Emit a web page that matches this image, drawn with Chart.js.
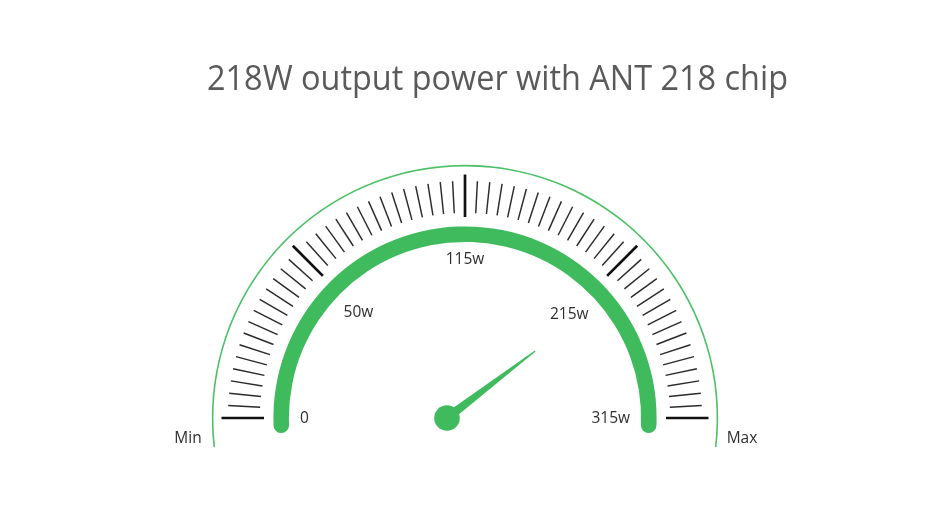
<!DOCTYPE html>
<html>
<head>
<meta charset="utf-8">
<script src="https://cdn.jsdelivr.net/npm/chart.js@4/dist/chart.umd.min.js"></script>
<style>
html,body{margin:0;padding:0;background:#ffffff;}
#wrap{width:950px;height:529px;position:relative;}
</style>
</head>
<body>
<div id="wrap"><canvas id="c" width="950" height="529"></canvas></div>
<script>
// ---- data ----
const chartTitle = '218W output power with ANT 218 chip';
const scaleLabels = ['0', '50w', '115w', '215w', '315w'];
const scaleValues = [0, 50, 115, 215, 315];
const endLabels = ['Min', 'Max'];
const needleValue = [218];
const gaugeRange = [315];
const tickIntervals = 60;
const majorEvery = 15;

// ---- styles ----
const GREEN = '#3fba5d';
const GREEN_LINE = '#4cc167';
const TEXT = '#2e2e2e';

function valueToTheta(v) {
  // piecewise mapping between labelled values placed at equal angular steps
  const n = scaleValues.length - 1;
  for (let i = 0; i < n; i++) {
    if (v <= scaleValues[i + 1] || i === n - 1) {
      const t = (v - scaleValues[i]) / (scaleValues[i + 1] - scaleValues[i]);
      return (i + t) * Math.PI / n;
    }
  }
  return Math.PI;
}

const gaugePlugin = {
  id: 'gaugeDecor',
  afterDatasetsDraw(chart) {
    const ctx = chart.ctx;
    const ring = chart.getDatasetMeta(1).data[0];
    const cx = ring.x, cy = ring.y;
    ctx.save();
    // ticks
    ctx.lineCap = 'butt';
    for (let i = 0; i <= tickIntervals; i++) {
      const a = Math.PI + i / tickIntervals * Math.PI;
      const major = i % majorEvery === 0;
      const r1 = major ? ring.innerRadius + 9.4 : ring.innerRadius + 13.5;
      const r2 = major ? ring.outerRadius - 8.1 : ring.outerRadius - 14.5;
      ctx.beginPath();
      ctx.moveTo(cx + r1 * Math.cos(a), cy + r1 * Math.sin(a));
      ctx.lineTo(cx + r2 * Math.cos(a), cy + r2 * Math.sin(a));
      ctx.lineWidth = major ? 2.7 : 1.45;
      ctx.strokeStyle = major ? '#111111' : '#2a2a2a';
      ctx.stroke();
    }
    // scale labels
    ctx.fillStyle = TEXT;
    ctx.font = '400 15.5px "Open Sans"';
    ctx.textAlign = 'center';
    ctx.textBaseline = 'alphabetic';
    const capH = 10.9;
    const n = scaleLabels.length - 1;
    scaleLabels.forEach((lab, i) => {
      const a = Math.PI + i * Math.PI / n;
      const ux = Math.cos(a), uy = Math.sin(a);
      const hw = ctx.measureText(lab).width / 2, hh = capH / 2;
      const r = 165 - (Math.abs(ux) * hw + Math.abs(uy) * hh);
      const x = cx + r * ux, y = cy + r * uy;
      ctx.fillText(lab, x, y + hh);
    });
    // Min / Max
    ctx.fillText(endLabels[0], cx - 277, cy + 25);
    ctx.fillText(endLabels[1], cx + 277, cy + 25);
    // needle
    const th = valueToTheta(needleValue[0]);
    const a = Math.PI + th;
    const tip = {x: cx + 97 * Math.cos(a), y: cy + 97 * Math.sin(a)};
    const piv = {x: cx - 18, y: cy};
    let dx = tip.x - piv.x, dy = tip.y - piv.y;
    const L = Math.hypot(dx, dy); dx /= L; dy /= L;
    const nx = -dy, ny = dx;
    ctx.fillStyle = GREEN;
    ctx.beginPath();
    ctx.moveTo(piv.x + nx * 4.8, piv.y + ny * 4.8);
    ctx.lineTo(tip.x + nx * 0.6, tip.y + ny * 0.6);
    ctx.lineTo(tip.x - nx * 0.6, tip.y - ny * 0.6);
    ctx.lineTo(piv.x - nx * 4.8, piv.y - ny * 4.8);
    ctx.closePath();
    ctx.fill();
    ctx.beginPath();
    ctx.arc(piv.x, piv.y, 12.8, 0, Math.PI * 2);
    ctx.fill();
    // title
    ctx.fillStyle = '#5a5a5a';
    ctx.font = '400 34px "Open Sans"';
    ctx.textAlign = 'center';
    ctx.fillText(chartTitle, 497.5, 90, 581);
    ctx.restore();
  }
};

new Chart(document.getElementById('c'), {
  type: 'doughnut',
  data: {
    labels: ['Power'],
    datasets: [
      {data: gaugeRange, backgroundColor: GREEN_LINE, weight: 1.6, rotation: -96.6, circumference: 193.2, borderWidth: 0},
      {data: gaugeRange, backgroundColor: 'rgba(0,0,0,0)', weight: 60, rotation: -90, circumference: 180, borderWidth: 0},
      {data: gaugeRange, backgroundColor: GREEN, weight: 15.5, rotation: -94.7, circumference: 189.4, borderWidth: 0, borderRadius: 8}
    ]
  },
  options: {
    responsive: false,
    animation: false,
    events: [],
    radius: 253.2,
    cutout: '69.55%',
    layout: {padding: {top: 100, bottom: 17.1, left: 0, right: 20}},
    plugins: {legend: {display: false}, tooltip: {enabled: false}, title: {display: false}}
  },
  plugins: [gaugePlugin]
});
</script>
</body>
</html>
